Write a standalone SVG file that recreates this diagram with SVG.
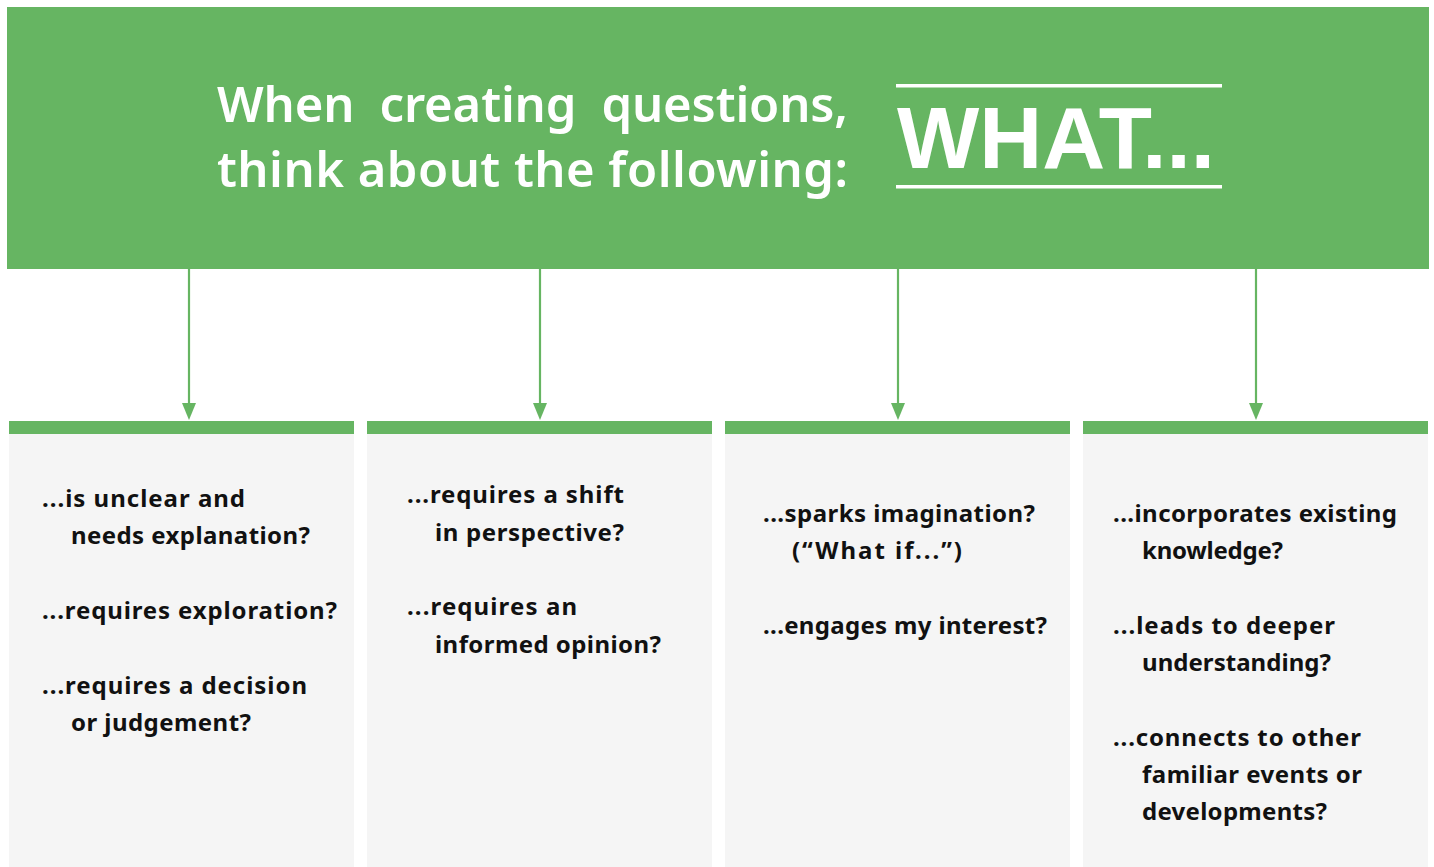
<svg xmlns="http://www.w3.org/2000/svg" width="1434" height="867" viewBox="0 0 1434 867">
<style>
.g{fill:#66b562}
.card{fill:#f5f5f5}
.t{font-family:"Noto Sans","DejaVu Sans",sans-serif;font-weight:700;font-size:24px;fill:#111111}
.h{font-family:"Noto Sans","DejaVu Sans",sans-serif;font-weight:600;font-size:49px;fill:#ffffff;white-space:pre}
.w{font-family:"Liberation Sans",Arial,sans-serif;font-weight:700;font-size:88px;fill:#ffffff}
.c{stroke:#66b562;stroke-width:2.2;fill:none}
</style>
<rect width="1434" height="867" fill="#ffffff"/>
<g id="header">
<rect class="g" x="7" y="7" width="1422" height="262"/>
<text class="h" x="217" y="122" textLength="631" lengthAdjust="spacing" xml:space="preserve">When  creating  questions,</text>
<text class="h" x="217" y="187" textLength="631" lengthAdjust="spacing">think about the following:</text>
<rect x="896" y="84" width="326" height="3.5" fill="#ffffff"/>
<rect x="896" y="185" width="326" height="3.5" fill="#ffffff"/>
<text class="w" x="897" y="168" textLength="318" lengthAdjust="spacingAndGlyphs">WHAT...</text>
</g>
<g id="connectors">
<path class="c" d="M189,269 V404"/>
<path class="c" d="M540,269 V404"/>
<path class="c" d="M898,269 V404"/>
<path class="c" d="M1256,269 V404"/>
<path d="M182,403 L196,403 L189,420 Z" fill="#66b562"/>
<path d="M533,403 L547,403 L540,420 Z" fill="#66b562"/>
<path d="M891,403 L905,403 L898,420 Z" fill="#66b562"/>
<path d="M1249,403 L1263,403 L1256,420 Z" fill="#66b562"/>
</g>
<g id="box1">
<rect class="g" x="9" y="421" width="345" height="13"/>
<rect class="card" x="9" y="434" width="345" height="433"/>
<text class="t" x="42" y="507" textLength="203" lengthAdjust="spacing">...is unclear and</text>
<text class="t" x="71" y="544" textLength="239" lengthAdjust="spacing">needs explanation?</text>
<text class="t" x="42" y="619" textLength="295" lengthAdjust="spacing">...requires exploration?</text>
<text class="t" x="42" y="694" textLength="265" lengthAdjust="spacing">...requires a decision</text>
<text class="t" x="71" y="731" textLength="180" lengthAdjust="spacing">or judgement?</text>
</g>
<g id="box2">
<rect class="g" x="367" y="421" width="345" height="13"/>
<rect class="card" x="367" y="434" width="345" height="433"/>
<text class="t" x="407" y="503" textLength="217" lengthAdjust="spacing">...requires a shift</text>
<text class="t" x="435" y="541" textLength="189" lengthAdjust="spacing">in perspective?</text>
<text class="t" x="407" y="615" textLength="170" lengthAdjust="spacing">...requires an</text>
<text class="t" x="435" y="653" textLength="226" lengthAdjust="spacing">informed opinion?</text>
</g>
<g id="box3">
<rect class="g" x="725" y="421" width="345" height="13"/>
<rect class="card" x="725" y="434" width="345" height="433"/>
<text class="t" x="763" y="522" textLength="272" lengthAdjust="spacing">...sparks imagination?</text>
<text class="t" x="792" y="559" textLength="170" lengthAdjust="spacing">(“What if...”)</text>
<text class="t" x="763" y="634" textLength="284" lengthAdjust="spacing">...engages my interest?</text>
</g>
<g id="box4">
<rect class="g" x="1083" y="421" width="345" height="13"/>
<rect class="card" x="1083" y="434" width="345" height="433"/>
<text class="t" x="1113" y="522" textLength="284" lengthAdjust="spacing">...incorporates existing</text>
<text class="t" x="1142" y="559" textLength="141" lengthAdjust="spacing">knowledge?</text>
<text class="t" x="1113" y="634" textLength="222" lengthAdjust="spacing">...leads to deeper</text>
<text class="t" x="1142" y="671" textLength="189" lengthAdjust="spacing">understanding?</text>
<text class="t" x="1113" y="746" textLength="248" lengthAdjust="spacing">...connects to other</text>
<text class="t" x="1142" y="783" textLength="220" lengthAdjust="spacing">familiar events or</text>
<text class="t" x="1142" y="820" textLength="185" lengthAdjust="spacing">developments?</text>
</g>
</svg>
